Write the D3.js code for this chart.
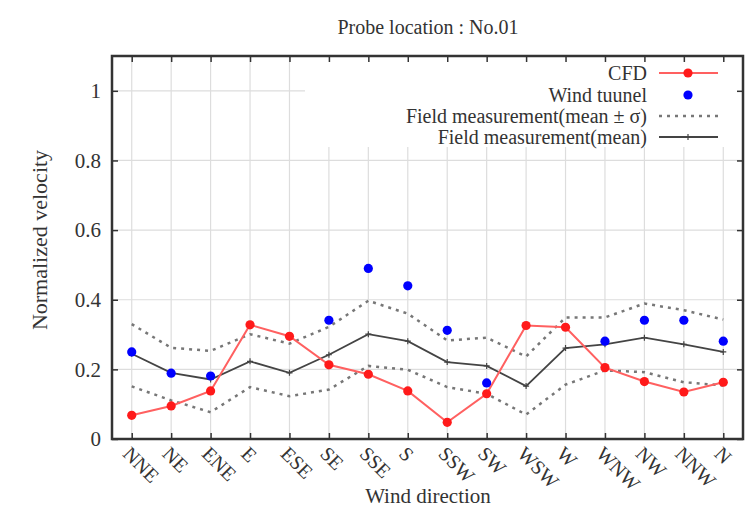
<!DOCTYPE html>
<html><head><meta charset="utf-8">
<script src="https://cdn.jsdelivr.net/npm/d3@7"></script>
<style>body{margin:0;background:#fff}svg{display:block}</style>
</head><body>
<svg id="c" width="753" height="513" font-family="'Liberation Serif','DejaVu Serif','Times New Roman',serif"></svg>
<script>
const directions = ["NNE","NE","ENE","E","ESE","SE","SSE","S","SSW","SW","WSW","W","WNW","NW","NNW","N"];
const cfd = [0.068,0.095,0.138,0.328,0.295,0.213,0.186,0.138,0.048,0.13,0.326,0.321,0.205,0.165,0.135,0.163];
const windTunnel = [0.25,0.189,0.181,null,null,0.341,0.49,0.44,0.312,0.161,null,null,0.281,0.341,0.341,0.281];
const fieldMean = [0.245,0.19,0.171,0.223,0.19,0.242,0.301,0.281,0.221,0.21,0.152,0.261,0.272,0.291,0.272,0.25];
const fieldUpper = [0.33,0.262,0.253,0.301,0.274,0.322,0.397,0.36,0.283,0.291,0.237,0.349,0.349,0.389,0.37,0.343];
const fieldLower = [0.151,0.111,0.077,0.149,0.123,0.142,0.21,0.199,0.149,0.13,0.07,0.156,0.197,0.192,0.163,0.154];
const yTicks = [0,0.2,0.4,0.6,0.8,1];
const yTickLabels = ["0","0.2","0.4","0.6","0.8","1"];
const legendLabels = ["CFD","Wind tuunel","Field measurement(mean \u00b1 \u03c3)","Field measurement(mean)"];
const title = "Probe location : No.01";
const xTitle = "Wind direction";
const yTitle = "Normalized velocity";

const svg = d3.select("#c");
const TXT = "#333";
const L=112, R=743, T=56, B=439;
const x = d3.scaleLinear().domain([-0.5,15.5]).range([L,R]);
const y = d3.scaleLinear().domain([0,1.1]).range([B,T]);
const idx = d3.range(directions.length);

// grid
const g = svg.append("g");
g.selectAll(".vg").data(idx).join("line")
  .attr("x1",i=>x(i)).attr("x2",i=>x(i))
  .attr("y1",B).attr("y2",i=>x(i)>300?147:T)
  .attr("stroke","#ddd").attr("stroke-width",1.2);
g.selectAll(".hg").data(yTicks.slice(1)).join("line")
  .attr("x1",L).attr("x2",d=>y(d)<147?305:R)
  .attr("y1",d=>y(d)).attr("y2",d=>y(d))
  .attr("stroke","#ddd").attr("stroke-width",1.2);

// axes ticks
const ax = svg.append("g");
ax.append("g").attr("transform",`translate(0,${B})`)
  .call(d3.axisBottom(x).tickValues(idx).tickSize(-6).tickFormat(""));
ax.append("g").attr("transform",`translate(0,${T})`)
  .call(d3.axisTop(x).tickValues(idx).tickSize(-6).tickFormat(""));
ax.append("g").attr("transform",`translate(${L},0)`)
  .call(d3.axisLeft(y).tickValues(yTicks).tickSize(-6).tickFormat(""));
ax.append("g").attr("transform",`translate(${R},0)`)
  .call(d3.axisRight(y).tickValues(yTicks).tickSize(-6).tickFormat(""));
ax.selectAll(".domain").remove();
ax.selectAll(".tick line").attr("stroke","#333").attr("stroke-width",1.5);

// y tick labels
svg.append("g").selectAll("text").data(yTicks).join("text")
  .attr("x",101).attr("y",d=>y(d)).attr("dy","0.35em").attr("fill",TXT)
  .attr("text-anchor","end").attr("font-size",21).text((d,i)=>yTickLabels[i]);

// x tick labels
svg.append("g").selectAll("text").data(idx).join("text")
  .attr("transform",i=>`translate(${x(i)-5},${B+11}) rotate(45)`).attr("fill",TXT)
  .attr("dy","0.35em").attr("font-size",20).text(i=>directions[i]);

// series
const line = d3.line().x((d,i)=>x(i)).y(d=>y(d));
const plot = svg.append("g");
plot.append("path").datum(fieldUpper).attr("d",line).attr("fill","none")
  .attr("stroke","#777").attr("stroke-width",2.5).attr("stroke-dasharray","3,5");
plot.append("path").datum(fieldLower).attr("d",line).attr("fill","none")
  .attr("stroke","#777").attr("stroke-width",2.5).attr("stroke-dasharray","3,5");
plot.append("path").datum(fieldMean).attr("d",line).attr("fill","none")
  .attr("stroke","#444").attr("stroke-width",1.8);
plot.selectAll(".pm").data(fieldMean).join("path")
  .attr("d",(d,i)=>`M${x(i)-3},${y(d)}h6M${x(i)},${y(d)-3}v6`)
  .attr("stroke","#444").attr("stroke-width",1.2);
plot.append("path").datum(cfd).attr("d",line).attr("fill","none")
  .attr("stroke","#ff6060").attr("stroke-width",2);
plot.selectAll(".cd").data(cfd).join("circle")
  .attr("cx",(d,i)=>x(i)).attr("cy",d=>y(d)).attr("r",4.6).attr("fill","#ff1a1a");
plot.selectAll(".wt").data(windTunnel.map((v,i)=>({v,i})).filter(d=>d.v!=null)).join("circle")
  .attr("cx",d=>x(d.i)).attr("cy",d=>y(d.v)).attr("r",4.6).attr("fill","#0000ff");

// frame
svg.append("rect").attr("x",L).attr("y",T).attr("width",R-L).attr("height",B-T)
  .attr("fill","none").attr("stroke","#333").attr("stroke-width",2.5);

// legend
const lg = svg.append("g");
const ly = [73,95,116,137];
lg.selectAll("text").data(legendLabels).join("text")
  .attr("x",647).attr("y",(d,i)=>ly[i]).attr("dy","0.33em").attr("fill",TXT)
  .attr("text-anchor","end").attr("font-size",20).text(d=>d);
lg.append("line").attr("x1",659).attr("x2",718).attr("y1",ly[0]).attr("y2",ly[0])
  .attr("stroke","#ff6060").attr("stroke-width",2);
lg.append("circle").attr("cx",688).attr("cy",ly[0]).attr("r",4.6).attr("fill","#ff1a1a");
lg.append("circle").attr("cx",688).attr("cy",ly[1]).attr("r",4.6).attr("fill","#0000ff");
lg.append("line").attr("x1",659).attr("x2",718).attr("y1",ly[2]).attr("y2",ly[2])
  .attr("stroke","#777").attr("stroke-width",2.5).attr("stroke-dasharray","3,5");
lg.append("line").attr("x1",659).attr("x2",718).attr("y1",ly[3]).attr("y2",ly[3])
  .attr("stroke","#444").attr("stroke-width",1.8);
lg.append("path").attr("d",`M685,${ly[3]}h6M688,${ly[3]-3}v6`).attr("stroke","#444").attr("stroke-width",1.2);

// titles
svg.append("text").attr("x",428).attr("y",27).attr("dy","0.35em").attr("text-anchor","middle")
  .attr("fill",TXT).attr("font-size",20).text(title);
svg.append("text").attr("x",428).attr("y",496).attr("dy","0.35em").attr("text-anchor","middle")
  .attr("fill",TXT).attr("font-size",21).text(xTitle);
svg.append("text").attr("transform","translate(39,240) rotate(-90)").attr("dy","0.35em")
  .attr("fill",TXT).attr("text-anchor","middle").attr("font-size",22).text(yTitle);
</script>
</body></html>
